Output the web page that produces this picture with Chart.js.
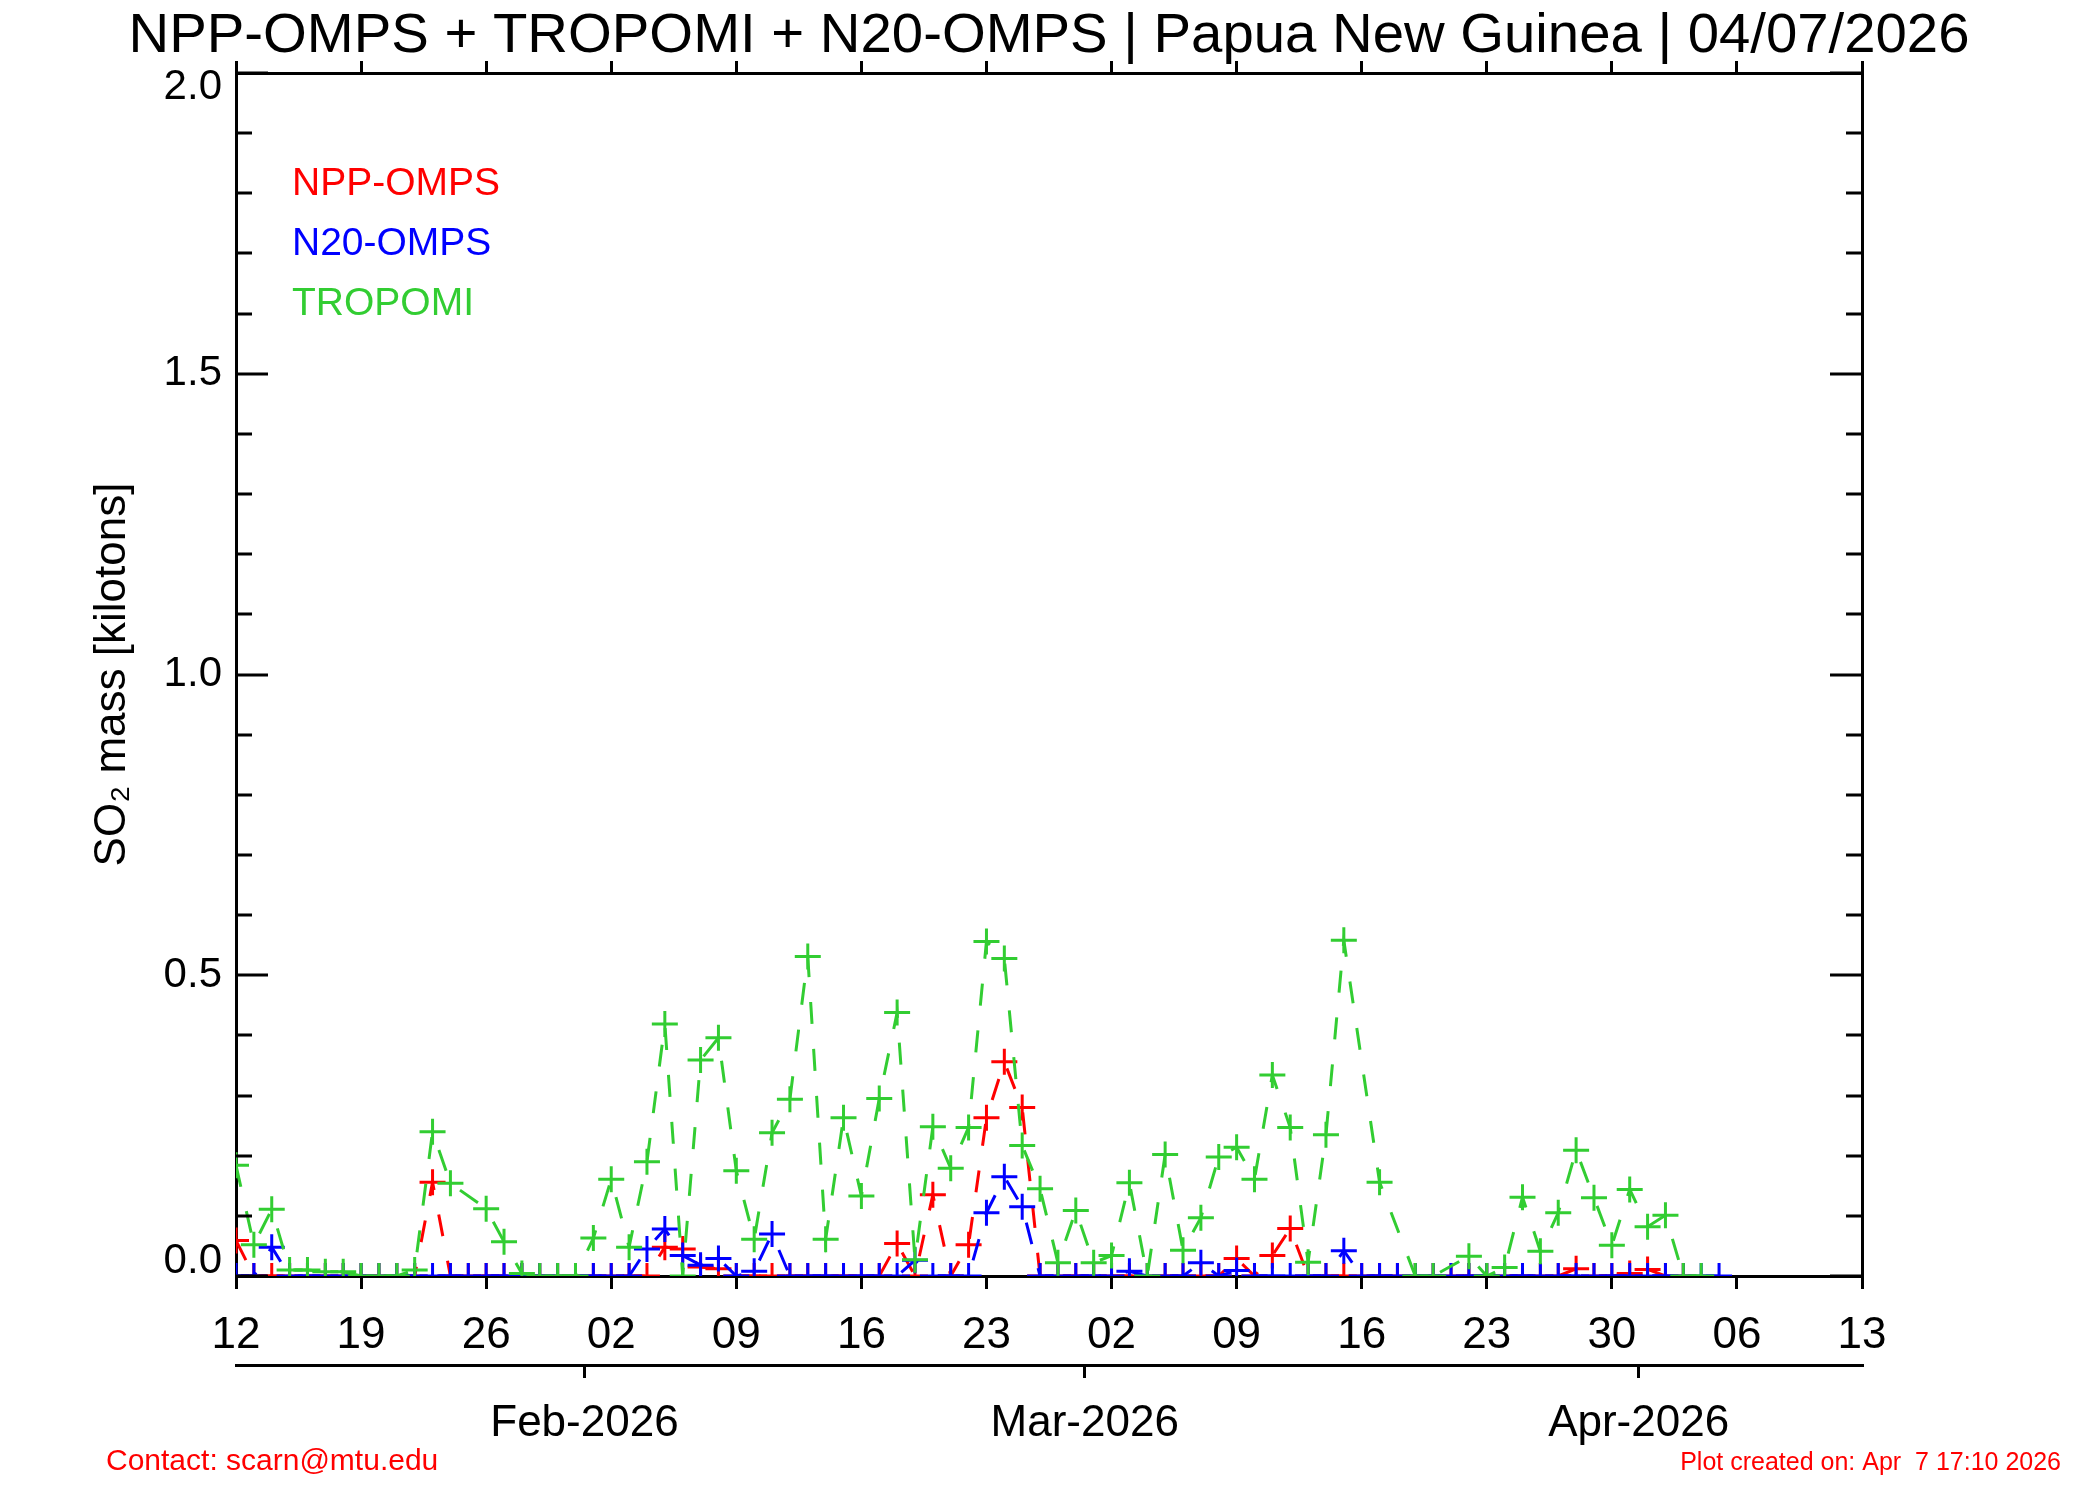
<!DOCTYPE html>
<html>
<head>
<meta charset="utf-8">
<title>SO2 mass - Papua New Guinea</title>
<script src="https://cdn.jsdelivr.net/npm/chart.js"></script>
<style>
  html, body { margin: 0; padding: 0; background: #fff; }
  #wrap { width: 2100px; height: 1500px; }
</style>
</head>
<body>
<div id="wrap"><canvas id="so2Chart" width="2100" height="1500"></canvas></div>
<script>
// daily SO2 mass [kt], index 0 = 12 Jan 2026, null = no retrieval that day
var nppOmps = [
  0.059, 0, 0, 0, 0, 0, 0, 0, 0, 0,
  0, 0.156, 0, 0, 0, 0, 0, 0, 0, 0,
  0, 0, 0, 0, 0.048, 0.045, 0.015, 0.012, 0, 0,
  0, 0, 0, 0, 0, 0, 0, 0.054, 0, 0.135,
  0, 0.052, 0.263, 0.356, 0.28, 0, 0, 0, 0, 0,
  0, 0, 0, 0, 0, 0, 0.029, 0, 0.034, 0.079,
  0, 0, 0, 0, 0, 0, 0, 0, 0, 0,
  0, 0, 0, 0, 0, 0.012, 0, 0, 0.004, 0.011,
  0, 0
];
var n20Omps = [
  0, 0, 0.048, 0, 0, 0, 0, 0, 0, 0,
  0, 0, 0, 0, 0, 0, 0, 0, 0, 0,
  0, 0, 0, 0.045, 0.078, 0.034, 0.018, 0.029, 0, 0.008,
  0.07, 0, 0, 0, 0, 0, 0, 0, 0.026, 0,
  0, 0, 0.105, 0.165, 0.115, 0, 0, 0, 0, 0,
  0.008, 0, 0, 0, 0.022, 0, 0.009, 0, 0, 0,
  0, 0, 0.042, 0, 0, 0, 0, 0, 0, 0,
  0, 0, 0, 0, 0, 0, 0, 0, 0, 0,
  0, 0, 0, 0
];
var tropomi = [
  0.184, 0.052, 0.111, 0.01, 0.01, 0.007, 0.007, 0, 0, 0,
  0.01, 0.24, 0.154, null, 0.112, 0.057, 0.004, 0, 0, 0,
  0.063, 0.161, 0.048, 0.19, 0.419, 0, 0.359, 0.396, 0.175, 0.061,
  0.238, 0.294, 0.531, 0.061, 0.263, 0.133, 0.295, 0.438, 0.027, 0.248,
  0.179, 0.247, 0.556, 0.528, 0.217, 0.145, 0.022, 0.109, 0.022, 0.034,
  0.155, 0, 0.202, 0.043, 0.097, 0.198, 0.214, 0.161, 0.334, 0.247,
  0.023, 0.235, 0.558, null, 0.156, null, 0, 0, null, 0.033,
  0, 0.014, 0.131, 0.041, 0.105, 0.209, 0.13, 0.051, 0.144, 0.082,
  0.101, 0, 0
];

var xTickDays = [0, 7, 14, 21, 28, 35, 42, 49, 56, 63, 70, 77, 84, 91];
var xTickLabels = ['12', '19', '26', '02', '09', '16', '23', '02', '09', '16', '23', '30', '06', '13'];
var monthTickDays = [19.5, 47.5, 78.5];
var monthLabels = ['Feb-2026', 'Mar-2026', 'Apr-2026'];
var yTickValues = [0, 0.5, 1.0, 1.5, 2.0];
var yTickLabels = ['0.0', '0.5', '1.0', '1.5', '2.0'];
var legendOrder = ['NPP-OMPS', 'N20-OMPS', 'TROPOMI'];

var FONT = '"Liberation Sans", Arial, Helvetica, "DejaVu Sans", sans-serif';

function toPoints(vals) {
  return vals.map(function (v, i) { return { x: i, y: v }; });
}

function seriesStyle(label, vals, color) {
  return {
    label: label,
    data: toPoints(vals),
    borderColor: color,
    backgroundColor: color,
    borderWidth: 3,
    borderDash: [22, 25],
    pointStyle: 'cross',
    pointRadius: 13,
    pointHoverRadius: 13,
    pointBorderWidth: 3,
    pointBorderColor: color,
    tension: 0,
    spanGaps: true,
    fill: false
  };
}

function setTicks(list) {
  return function (axis) {
    axis.ticks = list.map(function (v) { return { value: v }; });
  };
}

// IDL style frame: inward y ticks on both sides, y labels, title, legend, footer
var idlFrame = {
  id: 'idlFrame',
  afterDraw: function (chart) {
    var ctx = chart.ctx, area = chart.chartArea, y = chart.scales.y;
    ctx.save();
    ctx.strokeStyle = '#000';
    ctx.lineWidth = 3;
    for (var i = 0; i <= 20; i++) {
      var py = Math.round(y.getPixelForValue(i / 10));
      var len = (i % 5 === 0) ? 32 : 16;
      ctx.beginPath();
      ctx.moveTo(area.left, py); ctx.lineTo(area.left + len, py);
      ctx.moveTo(area.right, py); ctx.lineTo(area.right - len, py);
      ctx.stroke();
    }

    ctx.fillStyle = '#000';
    ctx.font = '42px ' + FONT;
    ctx.textAlign = 'right';
    ctx.textBaseline = 'middle';
    yTickValues.forEach(function (v, k) {
      var ly = y.getPixelForValue(v);
      ly = Math.min(Math.max(ly, area.top + 14), area.bottom - 15);
      ctx.fillText(yTickLabels[k], area.left - 14, ly);
    });

    ctx.textAlign = 'center';
    ctx.textBaseline = 'alphabetic';
    ctx.font = '56.3px ' + FONT;
    ctx.fillText('NPP-OMPS + TROPOMI + N20-OMPS | Papua New Guinea | 04/07/2026', 1049, 52);

    ctx.textAlign = 'left';
    ctx.textBaseline = 'middle';
    ctx.font = '39px ' + FONT;
    legendOrder.forEach(function (name, k) {
      var ds = chart.data.datasets.filter(function (d) { return d.label === name; })[0];
      ctx.fillStyle = ds.borderColor;
      ctx.fillText(name, 292, 184 + k * 60);
    });

    ctx.fillStyle = '#ff0000';
    ctx.font = '30px ' + FONT;
    ctx.fillText('Contact: scarn@mtu.edu', 106, 1462);
    ctx.textAlign = 'right';
    ctx.font = '25px ' + FONT;
    ctx.fillText('Plot created on: Apr  7 17:10 2026', 2061, 1463);
    ctx.restore();
  }
};

var axisLine = { display: true, color: '#000', width: 3 };

new Chart(document.getElementById('so2Chart').getContext('2d'), {
  type: 'line',
  data: {
    // first dataset is painted on top: TROPOMI over N20 over NPP
    datasets: [
      seriesStyle('TROPOMI', tropomi, '#32cd32'),
      seriesStyle('N20-OMPS', n20Omps, '#0000ff'),
      seriesStyle('NPP-OMPS', nppOmps, '#ff0000')
    ]
  },
  options: {
    responsive: false,
    devicePixelRatio: 1,
    animation: false,
    events: [],
    layout: { padding: 0 },
    plugins: {
      legend: { display: false },
      title: { display: false },
      tooltip: { enabled: false }
    },
    scales: {
      x: {
        type: 'linear', position: 'bottom', weight: 0,
        min: 0, max: 91,
        afterBuildTicks: setTicks(xTickDays),
        afterFit: function (s) { s.height = 89; },
        ticks: {
          autoSkip: false, maxRotation: 0, padding: 20, color: '#000',
          font: { family: FONT, size: 44 },
          callback: function (v, i) { return xTickLabels[i]; }
        },
        grid: { drawOnChartArea: false, drawTicks: true, tickLength: 13, color: '#000', lineWidth: 3 },
        border: axisLine
      },
      xMonth: {
        type: 'linear', position: 'bottom', weight: 1,
        min: 0, max: 91,
        afterBuildTicks: setTicks(monthTickDays),
        afterFit: function (s) { s.height = 135; },
        ticks: {
          autoSkip: false, maxRotation: 0, padding: 19, color: '#000',
          font: { family: FONT, size: 44 },
          callback: function (v, i) { return monthLabels[i]; }
        },
        grid: { drawOnChartArea: false, drawTicks: true, tickLength: 13, color: '#000', lineWidth: 3 },
        border: axisLine
      },
      xTop: {
        type: 'linear', position: 'top',
        min: 0, max: 91,
        afterBuildTicks: setTicks(xTickDays),
        afterFit: function (s) { s.height = 73; },
        ticks: { display: false },
        grid: { drawOnChartArea: false, drawTicks: true, tickLength: 12, color: '#000', lineWidth: 3 },
        border: axisLine
      },
      y: {
        type: 'linear', position: 'left',
        min: 0, max: 2,
        afterFit: function (s) { s.width = 236; },
        ticks: { display: false },
        grid: { display: false },
        border: axisLine,
        title: {
          display: true,
          text: 'SO\u2082 mass [kilotons]',
          color: '#000',
          font: { family: FONT, size: 44 },
          padding: { top: 86, bottom: 0 }
        }
      },
      yRight: {
        type: 'linear', position: 'right',
        min: 0, max: 2,
        afterFit: function (s) { s.width = 238; },
        ticks: { display: false },
        grid: { display: false },
        border: axisLine
      }
    }
  },
  plugins: [idlFrame]
});
</script>
</body>
</html>
